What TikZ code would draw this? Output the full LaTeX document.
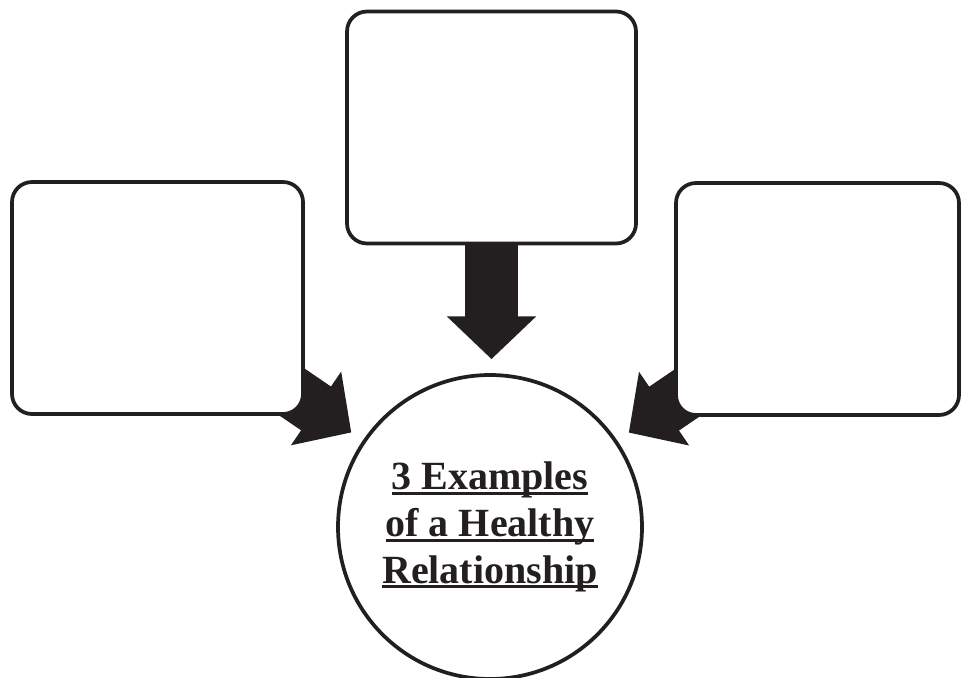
\documentclass[tikz,border=0pt]{standalone}
\usepackage{fontspec}
\setmainfont{Liberation Serif}
\usepackage{tikz}
\usetikzlibrary{arrows.meta,backgrounds}
\definecolor{hrink}{RGB}{35,31,32}
\newcommand{\hrUline}[1]{\sbox0{#1}\rlap{\rule[-0.125em]{\wd0}{0.075em}}\usebox0}
\tikzset{
  hrBox/.style={draw=hrink, rounded corners=15pt, line width=2.8pt, fill=white,
                minimum width=#1, minimum height=174pt, inner sep=0pt},
  hrHub/.style={circle, draw=hrink, line width=2.8pt, fill=white,
                minimum size=228pt, inner sep=0pt, align=center, text=hrink,
                font=\fontsize{30}{35}\selectfont\bfseries},
  hrFat/.style={-{Triangle[length=32pt, width=65pt]}, line width=39.75pt,
                draw=hrink, shorten >=10.5pt}
}

\begin{document}
\begin{tikzpicture}[x=0.75pt,y=-0.75pt]
  \useasboundingbox (0,0) rectangle (961,678);
  \node[hrBox=218.25pt] (lbox) at (157.5,298) {};
  \node[hrBox=216.75pt] (tbox) at (491.5,127.5) {};
  \node[hrBox=212.25pt] (rbox) at (817.5,299) {};
  \node[hrHub] (hub) at (490,527)
        {\hrUline{3 Examples}\\\hrUline{of a Healthy}\\\hrUline{Relationship}};

  % fat arrows sit behind the boxes
  \begin{scope}[on background layer]
    \draw[hrFat] (tbox.south) -- (tbox.south |- hub.north);
    \draw[hrFat] ([shift={(-19,-28)}]lbox.south east) -- (hub);
    \draw[hrFat] ([shift={(19,-28)}]rbox.south west) -- (hub);
  \end{scope}
\end{tikzpicture}
\end{document}
